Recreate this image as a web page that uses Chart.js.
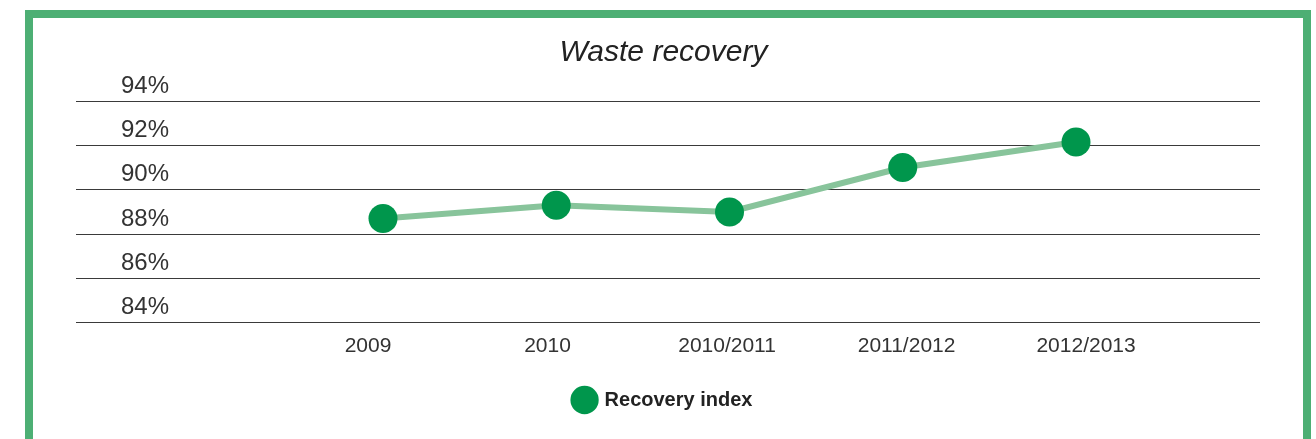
<!DOCTYPE html>
<html>
<head>
<meta charset="utf-8">
<script src="https://cdn.jsdelivr.net/npm/chart.js@4.4.1/dist/chart.umd.min.js"></script>
<style>
html, body { margin: 0; padding: 0; background: #ffffff; }
body { width: 1316px; height: 439px; overflow: hidden; position: relative; font-family: "Liberation Sans", Arial, sans-serif; }
.frame { position: absolute; left: 25px; top: 10px; width: 1270px; height: 460px; border: 8px solid #4daf74; box-sizing: content-box; }
.wrap { position: absolute; left: 0; top: 0; width: 1316px; height: 439px; }
</style>
</head>
<body>
<div class="frame"></div>
<div class="wrap"><canvas id="wasteChart"></canvas></div>
<script>
const periods = ['2009', '2010', '2010/2011', '2011/2012', '2012/2013'];
const recoveryIndex = [88.7, 89.3, 89.0, 91.0, 92.15];
const yTicks = [84, 86, 88, 90, 92, 94];

const FONT = '"Liberation Sans", Arial, Helvetica, sans-serif';

const points = recoveryIndex.map(function(v, i) { return { x: i, y: v }; });

const ctx = document.getElementById('wasteChart').getContext('2d');
window.wasteChart = new Chart(ctx, {
type: 'line',
data: { datasets: [
{ label: 'Recovery index', data: points, borderColor: '#88c49b', borderWidth: 6, backgroundColor: '#00964c',
pointBackgroundColor: '#00964c', pointBorderColor: '#00964c', pointBorderWidth: 0, pointRadius: 14.5, pointHoverRadius: 14.5, tension: 0, fill: false, xAxisID: 'x', yAxisID: 'y' }
] },
options: {
responsive: true, maintainAspectRatio: false, animation: false,
layout: { padding: { left: 67, right: 56, top: 0, bottom: 19 } },
plugins: {
title: { display: true, text: 'Waste recovery', color: '#222222', padding: { top: 35, bottom: 30 }, font: { family: FONT, size: 30, style: 'italic', weight: 'normal', lineHeight: 1.2 } },
legend: { display: true, position: 'bottom', labels: { usePointStyle: true, pointStyle: 'circle', color: '#222222', padding: 20, font: { family: FONT, size: 20, weight: 'bold' } } },
tooltip: { enabled: false }
},
scales: {
x: { type: 'linear', display: false, min: -1.772, max: 5.062 },
xl: { type: 'linear', position: 'bottom', min: -1.627, max: 4.969,
grid: { display: false, drawTicks: false }, border: { display: false },
afterBuildTicks: function(scale) { scale.ticks = periods.map(function(_, i) { return { value: i }; }); },
ticks: { color: '#333333', padding: 11, autoSkip: false, maxRotation: 0, font: { family: FONT, size: 21 }, callback: function(v) { return periods[v]; } } },
y: { min: 84, max: 94, position: 'left',
afterBuildTicks: function(scale) { scale.ticks = yTicks.map(function(v) { return { value: v }; }); },
afterFit: function(scale) { scale.width = 9; },
grid: { color: '#3a3a3a', lineWidth: 1, drawTicks: false }, border: { display: false },
ticks: { mirror: true, padding: 45, labelOffset: -15, color: '#333333', font: { family: FONT, size: 24 }, callback: function(v) { return v + '%'; } } }
}
}
});
</script>
</body>
</html>
